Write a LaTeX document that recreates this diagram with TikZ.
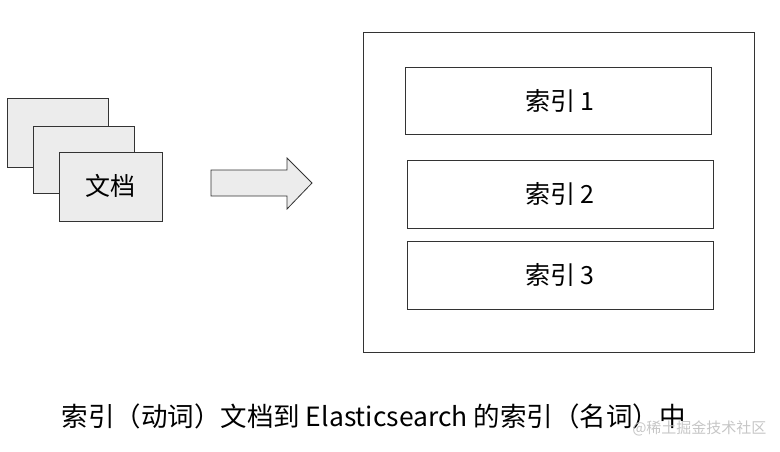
\documentclass[tikz,border=0pt]{standalone}
\usepackage{fontspec}
\setmainfont{Noto Sans CJK SC}
\begin{document}
\begin{tikzpicture}[x=1pt,y=-1pt,
  doc/.style={draw=black!80,fill=gray!15,line width=0.8pt},
  box/.style={draw=black!80,fill=white,line width=0.8pt},
  lbl/.style={font=\fontsize{25}{30}\selectfont}]
\useasboundingbox (0,0) rectangle (780,451);
\draw[doc] (7,98) rectangle (108,167);
\node[lbl] (d1) at (58,141) {文档};
\draw[doc] (33,126) rectangle (134,193);
\node[lbl] (d2) at (84,168) {文档};
\draw[doc] (59,152) rectangle (162,221);
\node[lbl] (d3) at (110,186) {文档};
\draw[doc] (211,170) -- (287,170) -- (287,158) -- (312,183) -- (287,209) -- (287,196) -- (211,196) -- cycle;
\draw[box] (363,32) rectangle (754,352);
\draw[box] (405,67) rectangle (711,134);
\node[lbl] (i1) at (560,100.5) {索引 1};
\draw[box] (407,160) rectangle (713,228);
\node[lbl] (i2) at (560,194) {索引 2};
\draw[box] (407,241) rectangle (713,309);
\node[lbl] (i3) at (560,275) {索引 3};
\node[font=\fontsize{26.5}{30}\selectfont,anchor=west] (cap) at (58,416) {索引（动词）文档到 Elasticsearch 的索引（名词）中};
\node[font=\fontsize{15}{18}\selectfont,text=gray!45,anchor=east] (wm) at (770,428) {@稀土掘金技术社区};
\end{tikzpicture}
\end{document}
